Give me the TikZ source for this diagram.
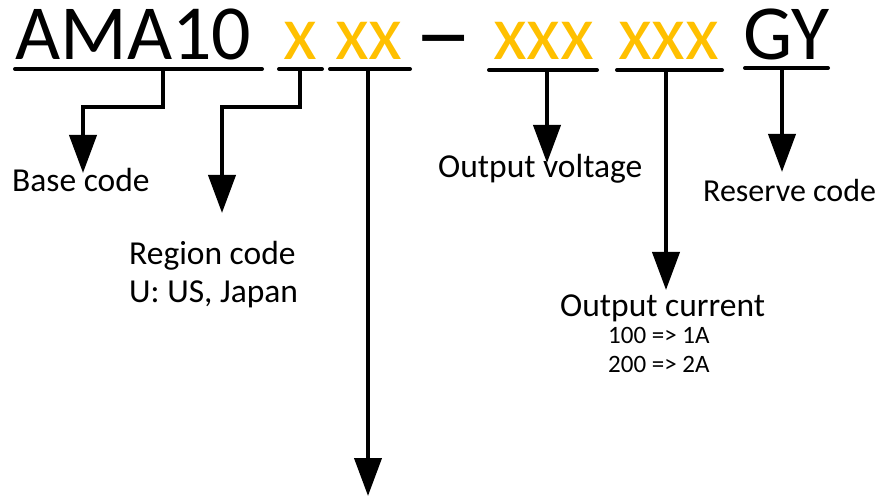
\documentclass[tikz,border=0pt]{standalone}
\usepackage{fontspec}
\setmainfont{Carlito}
\usetikzlibrary{arrows.meta}
\definecolor{gold}{HTML}{FFC000}
\tikzset{
  ttl/.style={inner sep=0pt, anchor=base west, font=\fontsize{78}{80}\selectfont},
  ttly/.style={ttl, text=gold},
  lbl/.style={inner sep=0pt, anchor=base west, font=\fontsize{33.5}{36}\selectfont},
  sml/.style={inner sep=0pt, anchor=base west, font=\fontsize{25}{28}\selectfont},
  uline/.style={line width=4pt, line cap=round},
  conn/.style={line width=4pt, -{Triangle[length=38pt,width=27pt]}},
}
\begin{document}
\begin{tikzpicture}[x=1pt,y=-1pt]
\useasboundingbox (0,0) rectangle (887,497);
% title parts
\node[ttl]  (ama) at (15,60) {AMA10};
\node[ttly] (reg) at (283,60) {x};
\node[ttly] (var) at (335,60) {xx};
\node[ttl]  (dash) at (414,66) {\scalebox{1.5}[1.25]{–}};
\node[ttly] (vol) at (493,60) {xxx};
\node[ttly] (cur) at (618,60) {xxx};
\node[ttl]  (gy) at (743,60) {GY};
% underlines
\coordinate (u1a) at (15,69);  \coordinate (u1b) at (262,69);
\coordinate (u2a) at (279,69); \coordinate (u2b) at (322,69);
\coordinate (u3a) at (330,69); \coordinate (u3b) at (410,69);
\coordinate (u4a) at (489,70); \coordinate (u4b) at (597,70);
\coordinate (u5a) at (617,70); \coordinate (u5b) at (722,70);
\coordinate (u6a) at (745,68); \coordinate (u6b) at (828,68);
\draw[uline] (u1a) -- (u1b);
\draw[uline] (u2a) -- (u2b);
\draw[uline] (u3a) -- (u3b);
\draw[uline] (u4a) -- (u4b);
\draw[uline] (u5a) -- (u5b);
\draw[uline] (u6a) -- (u6b);
% connector start / end points
\coordinate (s1) at (163,69);  \coordinate (t1) at (83,173);
\coordinate (s2) at (300,69);  \coordinate (t2) at (222,213);
\coordinate (s3) at (368,69);  \coordinate (t3) at (368,496);
\coordinate (s4) at (547,70);  \coordinate (t4) at (547,163);
\coordinate (s5) at (666,70);  \coordinate (t5) at (666,290);
\coordinate (s6) at (782,68);  \coordinate (t6) at (782,172);
\draw[conn] (s1) -- (163,107) -| (t1);
\draw[conn] (s2) -- (300,107) -| (t2);
\draw[conn] (s3) -- (t3);
\draw[conn] (s4) -- (t4);
\draw[conn] (s5) -- (t5);
\draw[conn] (s6) -- (t6);
% labels
\node[lbl] (base) at (12,192) {Base code};
\node[lbl] (regl) at (129,265) {Region code};
\node[lbl] (regv) at (129,303) {U: US, Japan};
\node[lbl] (voll) at (438,178) {Output voltage};
\node[lbl, font=\fontsize{32}{36}\selectfont] (resl) at (703,202) {Reserve code};
\node[lbl] (curl) at (560,317) {Output current};
\node[sml] (c1) at (608,344) {100 => 1A};
\node[sml] (c2) at (608,373) {200 => 2A};
\end{tikzpicture}
\end{document}
